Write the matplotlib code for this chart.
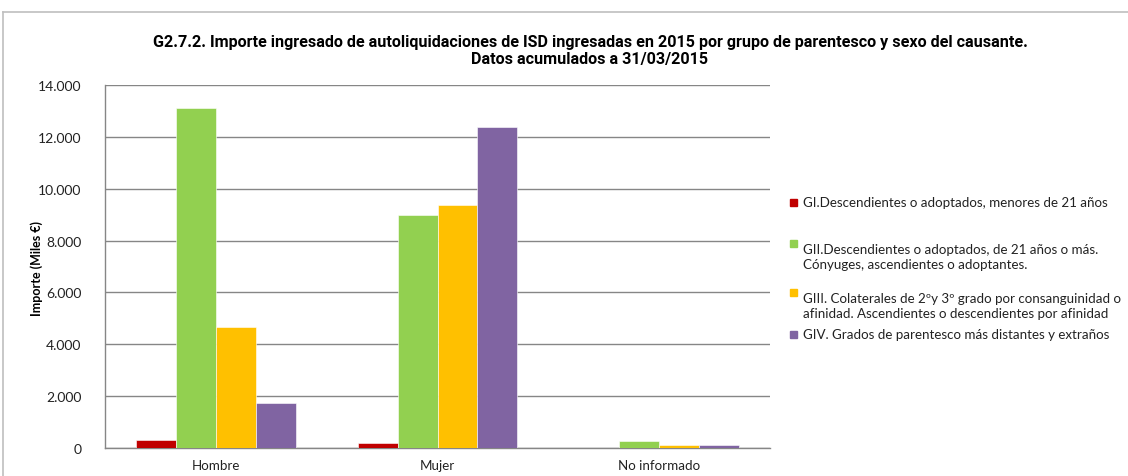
import matplotlib
matplotlib.use("Agg")
import matplotlib.pyplot as plt
import numpy as np
from matplotlib.patches import Rectangle
from matplotlib.lines import Line2D
from matplotlib.ticker import FuncFormatter

# -----------------------------
# Data (miles de euros)
# -----------------------------
categories = ["Hombre", "Mujer", "No informado"]
series_labels = [
    "GI.Descendientes o adoptados, menores de 21 años",
    "GII.Descendientes o adoptados, de 21 años o más.\nCónyuges, ascendientes o adoptantes.",
    "GIII. Colaterales de 2ºy 3º grado por consanguinidad o\nafinidad. Ascendientes o descendientes por afinidad",
    "GIV. Grados de parentesco más distantes y extraños",
]
gi = [300, 205, 0]
gii = [13110, 8985, 270]
giii = [4655, 9370, 105]
giv = [1725, 12380, 105]
series = [gi, gii, giii, giv]
colors = ["#C00000", "#92D050", "#FFC000", "#8064A2"]

title = ("G2.7.2. Importe ingresado de autoliquidaciones de ISD ingresadas en 2015 por grupo de parentesco y sexo del causante.\n"
         "Datos acumulados a 31/03/2015")

# -----------------------------
# Figure
# -----------------------------
W, H = 1128, 477
fig = plt.figure(figsize=(W / 100, H / 100), dpi=100)
fig.patch.set_facecolor("white")

body = ["Lato", "DejaVu Sans"]

# outer frame of the chart area
fig.add_artist(Line2D([3 / W, 3 / W], [0, 1 - 13 / H], color="#BFBFBF", lw=1.2))
fig.add_artist(Line2D([3 / W, 1], [1 - 13 / H, 1 - 13 / H], color="#BFBFBF", lw=1.2))

ax = fig.add_axes([105 / W, 28 / H, 665 / W, 363 / H])

x = np.arange(len(categories))
bw = 0.18
for i, (vals, col) in enumerate(zip(series, colors)):
    ax.bar(x + (i - 1.5) * bw, vals, bw, color=col, edgecolor="white", linewidth=0.4, zorder=3)

ax.set_xlim(-0.5, 2.5)
ax.set_ylim(0, 14000)
ax.set_yticks(np.arange(0, 14001, 2000))
ax.yaxis.set_major_formatter(FuncFormatter(lambda v, p: f"{int(v):,}".replace(",", ".")))
ax.set_xticks(x)
ax.set_xticklabels(categories)
ax.grid(axis="y", color="#868686", lw=1.0, zorder=0)
for s in ["top", "right"]:
    ax.spines[s].set_visible(False)
for s in ["left", "bottom"]:
    ax.spines[s].set_color("#868686")
    ax.spines[s].set_linewidth(1.0)
ax.tick_params(axis="both", length=0, colors="#222222")
ax.tick_params(axis="y", pad=17, labelsize=10)
ax.tick_params(axis="x", pad=8, labelsize=9.6)
for lab in ax.get_xticklabels() + ax.get_yticklabels():
    lab.set_family(body)

fig.text(37 / W, 1 - 268 / H, "Importe (Miles €)", rotation=90, ha="center", va="center",
         fontsize=9, fontweight="bold", family=body)

fig.text(590 / W, 1 - 51 / H, title, ha="center", va="center", fontsize=11.6,
         fontweight="bold", family=["Roboto", "DejaVu Sans"], linespacing=1.15)

# legend, drawn manually to keep Excel-like spacing
leg_y = [203, 244, 293, 335]
for lab, col, yy in zip(series_labels, colors, leg_y):
    fig.add_artist(Rectangle((790 / W, 1 - (yy + 4) / H), 7 / W, 7 / H, color=col,
                             transform=fig.transFigure))
    fig.text(803 / W, 1 - yy / H, lab, ha="left", va="top" if "\n" in lab else "center",
             fontsize=9.6, family=body, linespacing=1.3, color="#222222")

fig.savefig("out.png", dpi=100)
